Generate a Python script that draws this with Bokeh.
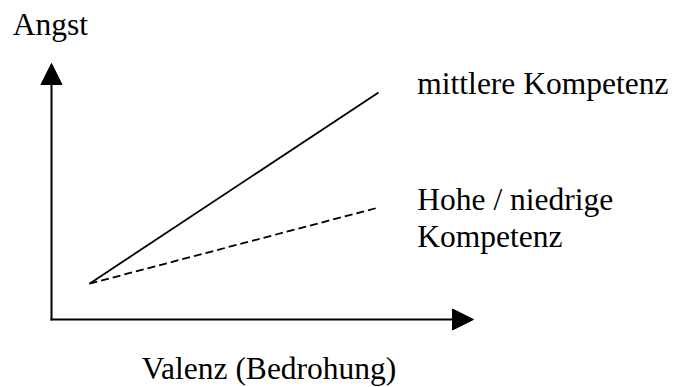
from bokeh.plotting import figure
from bokeh.models import Arrow, NormalHead, Label, Range1d
from bokeh.embed import file_html
from bokeh.resources import INLINE

# Schematic data (axis units: 0 = origin, 1 = arrow tip)
valenz = [0.09, 0.775]
angst_mittlere = [0.14, 0.887]
angst_hoch_niedrig = [0.14, 0.4375]

label_y = "Angst"
label_x = "Valenz (Bedrohung)"
label_mittlere = "mittlere Kompetenz"
label_hoch_niedrig = ["Hohe / niedrige", "Kompetenz"]

W, H = 675, 387
p = figure(width=W, height=H, output_backend="svg", toolbar_location=None,
           x_axis_type=None, y_axis_type=None,
           x_range=Range1d(-0.12085, 1.4787), y_range=Range1d(-0.2656, 1.2461),
           min_border_left=0, min_border_right=0, min_border_top=0, min_border_bottom=0)
p.outline_line_color = None
p.grid.visible = False
p.background_fill_color = "white"
p.border_fill_color = "white"

# axes as arrows
for xs, ys, xe, ye in [(0, 0, 0, 1), (0, 0, 1, 0)]:
    p.add_layout(Arrow(x_start=xs, y_start=ys, x_end=xe, y_end=ye,
                       line_width=2, line_color="black", line_cap="square",
                       end=NormalHead(size=21, fill_color="black",
                                      line_color="black", line_width=1)))

p.line(valenz, angst_mittlere, line_color="black", line_width=1.8)
p.line(valenz, angst_hoch_niedrig, line_color="black", line_width=1.8,
       line_dash="8 4")

font = "Liberation Serif"
fs = "31.5px"

def lab(x, y, t):
    p.add_layout(Label(x=x, y=y, text=t, text_font=font, text_font_size=fs,
                       text_color="black", text_baseline="alphabetic",
                       text_align="left"))

lab(-0.092, 1.153, label_y)
lab(0.867, 0.923, label_mittlere)
lab(0.867, 0.470, label_hoch_niedrig[0])
lab(0.867, 0.325, label_hoch_niedrig[1])
lab(0.214, -0.192, label_x)

open("out.html", "w").write(file_html(p, INLINE))
